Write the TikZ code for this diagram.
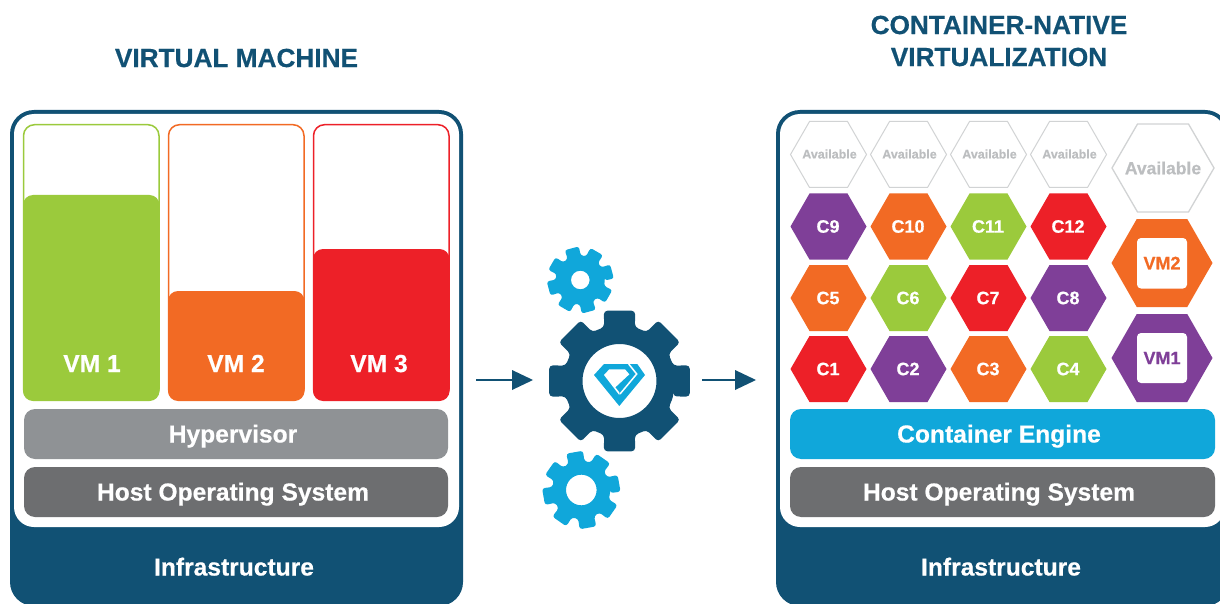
\documentclass[tikz,border=0pt]{standalone}
\usepackage{fontspec}
\setmainfont{Liberation Sans}[BoldFeatures={FakeBold=0.5}]
\definecolor{navy}{HTML}{115174}
\definecolor{lime}{HTML}{9BCA3C}
\definecolor{orng}{HTML}{F26A24}
\definecolor{crim}{HTML}{ED2028}
\definecolor{purp}{HTML}{7F3F98}
\definecolor{cyanb}{HTML}{10A7DA}
\definecolor{grayl}{HTML}{8F9295}
\definecolor{grayd}{HTML}{6D6E70}
\definecolor{avail}{HTML}{D1D3D4}
\definecolor{availt}{HTML}{BCBEC0}
\newcommand{\hexpath}[4]{% cx cy halfwidth halfheight
 (#1-#3,#2) -- (#1-#3/2,#2-#4) -- (#1+#3/2,#2-#4) -- (#1+#3,#2) -- (#1+#3/2,#2+#4) -- (#1-#3/2,#2+#4) -- cycle}
\newcommand{\hexa}[5]{\fill[#5] \hexpath{#1}{#2}{#3}{#4};}
\newcommand{\gearshape}[8]{% cx cy Rout Rroot hole rot colour corner
 \fill[#7,even odd rule,rounded corners=#8]
 ({#1+#4*cos(#6-16)},{#2-#4*sin(#6-16)})
 \foreach \k in {0,...,7}{
   -- ({#1+#4*cos(#6+45*\k-16)},{#2-#4*sin(#6+45*\k-16)})
   -- ({#1+#3*cos(#6+45*\k-12.5)},{#2-#3*sin(#6+45*\k-12.5)})
   -- ({#1+#3*cos(#6+45*\k+12.5)},{#2-#3*sin(#6+45*\k+12.5)})
   -- ({#1+#4*cos(#6+45*\k+16)},{#2-#4*sin(#6+45*\k+16)})
 } -- cycle
 [sharp corners] (#1,#2) circle[radius=#5];}
\tikzset{
  title/.style={text=navy,font=\bfseries\fontsize{26.2}{32}\selectfont,align=center,inner sep=0},
  lbl/.style={text=white,font=\bfseries\fontsize{24.6}{28}\selectfont,inner sep=0,anchor=base},
  hex/.style={text=white,font=\bfseries\fontsize{18}{22}\selectfont,inner sep=0},
  av/.style={text=availt,font=\bfseries\fontsize{12.5}{15}\selectfont,inner sep=0},
  flow/.style={navy,line width=2.6pt},
  tip/.style={navy}
}
\begin{document}
\begin{tikzpicture}[x=1pt,y=-1pt]
\useasboundingbox (0,0) rectangle (1220,604);
% left frame
\fill[navy,rounded corners=24pt] (10,110) rectangle (463,606);
\fill[white,rounded corners=20pt] (14,114) rectangle (459,527);
% VM columns
\foreach \x/\c/\t in {23/lime/195,168/orng/291,313/crim/249}{
  \draw[\c,line width=1.5pt,rounded corners=11pt] (\x.5,124.7) rectangle (\x+136,400);
  \fill[\c,rounded corners=10pt] (\x,\t) rectangle (\x+136.5,401);
}
\node[lbl] (vmone) at (92,372) {VM 1};
\node[lbl] (vmtwo) at (236,372) {VM 2};
\node[lbl] (vmthree) at (379,372) {VM 3};
\fill[grayl,rounded corners=11pt] (24,409) rectangle (448,459);
\node[lbl] (hyper) at (233,442.5) {Hypervisor};
\fill[grayd,rounded corners=11pt] (24,467) rectangle (448,517);
\node[lbl] (hostl) at (233,500.5) {Host Operating System};
\node[lbl] (infral) at (234,575.5) {Infrastructure};
\node[title] (tl) at (236.5,58) {VIRTUAL MACHINE};
% right frame
\fill[navy,rounded corners=24pt] (776,110) rectangle (1229,606);
\fill[white,rounded corners=20pt] (780,114) rectangle (1225,527);
\fill[cyanb,rounded corners=11pt] (790,409) rectangle (1215,459);
\node[lbl] (engine) at (999,442.5) {Container Engine};
\fill[grayd,rounded corners=11pt] (790,467) rectangle (1215,517);
\node[lbl] (hostr) at (999,500.5) {Host Operating System};
\node[lbl] (infrar) at (1001,575.5) {Infrastructure};
\node[title] (tr) at (999,41) {CONTAINER-NATIVE\\VIRTUALIZATION};
% available
\foreach \x in {828.5,908.5,988.5,1068.5}{
  \draw[avail,line width=1pt] \hexpath{\x}{154.5}{38}{33};
  \node[av] at (\x+1,154) {Available};
}
\draw[avail,line width=1.3pt] \hexpath{1163}{168}{51}{44};
\node[av,font=\bfseries\fontsize{17.5}{22}\selectfont] (avbig) at (1163,168) {Available};
% containers
\foreach \x/\y/\c/\t in {
 828.5/226.5/purp/C9,908.5/226.5/orng/C10,988.5/226.5/lime/C11,1068.5/226.5/crim/C12,
 828.5/298/orng/C5,908.5/298/lime/C6,988.5/298/crim/C7,1068.5/298/purp/C8,
 828.5/369/crim/C1,908.5/369/purp/C2,988.5/369/orng/C3,1068.5/369/lime/C4}{
  \hexa{\x}{\y}{38}{33}{\c}
  \node[hex] at (\x-0.5,\y) {\t};
}
% VM hexagons
\hexa{1162}{263}{50.5}{44}{orng}
\fill[white,rounded corners=4pt] (1137,238) rectangle (1187,288.5);
\node[text=orng,font=\bfseries\fontsize{18}{22}\selectfont,inner sep=0] (vmb) at (1162,263) {VM2};
\hexa{1162}{358}{50.5}{44}{purp}
\fill[white,rounded corners=4pt] (1137,333) rectangle (1187,383);
\node[text=purp,font=\bfseries\fontsize{18}{22}\selectfont,inner sep=0] (vma) at (1162,358) {VM1};
% gears
\gearshape{619.5}{381}{72}{56}{37}{0}{navy}{3.5pt}
\gearshape{580.3}{280}{33.6}{24.5}{9.3}{15}{cyanb}{2.5pt}
\gearshape{581.3}{490}{39.3}{29}{15.3}{10}{cyanb}{2.8pt}
% logo
\fill[cyanb] (594,375) -- (604,364) -- (637.3,364) -- (645,375) -- (619.3,406) -- cycle;
\fill[white] (604,375) -- (609.3,369.3) -- (625,369.3) -- (629.3,374.3) -- (615.3,387.3) -- (619.3,392.3) -- (619.3,395) -- cycle;
\draw[white,line width=1.5pt] (628.7,364) -- (636.7,374) -- (620,394);
% arrows
\coordinate (a1) at (476,380); \coordinate (a2) at (533,380);
\coordinate (b1) at (702,380); \coordinate (b2) at (756,380);
\draw[flow] (a1) -- (515,380);
\fill[tip] (512,370) -- (a2) -- (512,390) -- cycle;
\draw[flow] (b1) -- (738,380);
\fill[tip] (735,370) -- (b2) -- (735,390) -- cycle;
\end{tikzpicture}
\end{document}
